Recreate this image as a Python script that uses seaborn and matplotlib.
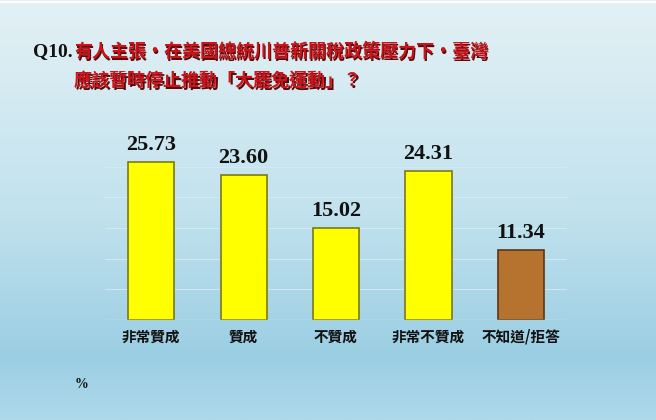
import matplotlib
matplotlib.use("Agg")
import matplotlib.pyplot as plt
from matplotlib.colors import LinearSegmentedColormap
import seaborn as sns
import pandas as pd
import numpy as np

# 資料
categories = ["非常贊成", "贊成", "不贊成", "非常不贊成", "不知道/拒答"]
values = [25.73, 23.60, 15.02, 24.31, 11.34]
bar_colors = ["#ffff00", "#ffff00", "#ffff00", "#ffff00", "#b5732f"]
edge_colors = ["#7a7a10", "#7a7a10", "#7a7a10", "#7a7a10", "#5c3614"]

df = pd.DataFrame({"cat": categories, "val": values})

sns.set_theme(style="white")
plt.rcParams['font.family'] = ['Noto Sans CJK TC', 'DejaVu Sans']

fig = plt.figure(figsize=(6.56, 4.2), dpi=100)

# 背景漸層
bg = fig.add_axes([0, 0, 1, 1])
cmap = LinearSegmentedColormap.from_list(
    "bg", [(0, "#e3f1f5"), (0.5, "#c2e2ee"), (0.85, "#9bcee3"), (1, "#aed9ea")])
grad = np.linspace(0, 1, 256).reshape(-1, 1)
bg.imshow(grad, aspect="auto", cmap=cmap, extent=[0, 1, 0, 1], origin="upper")
bg.axhline(0.995, color="white", lw=1.5)
bg.set_axis_off()

# 長條圖
W, H = 656, 420
ax = fig.add_axes([105 / W, (H - 320) / H, 462 / W, 184 / H])
ax.patch.set_alpha(0)
sns.barplot(data=df, x="cat", y="val", hue="cat", palette=bar_colors,
            width=0.5, legend=False, ax=ax, saturation=1)
for p, ec in zip(ax.patches, edge_colors):
    p.set_edgecolor(ec)
    p.set_linewidth(1.2)
ax.set_ylim(0, 30)
ax.set_xlim(-0.5, 4.5)
for yv in [5, 10, 15, 20, 25]:
    ax.axhline(yv, color="#d6ecf3", lw=0.6, zorder=0)
ax.axhline(0, color="#d0e8f0", lw=1.0)
for s in ax.spines.values():
    s.set_visible(False)
ax.set_yticks([])
ax.set_xlabel("")
ax.set_ylabel("")
ax.tick_params(axis="x", length=0, pad=6)
ax.set_xticks(range(len(categories)))
ax.set_xticklabels(categories, fontsize=10.5, fontweight="bold", color="#111111")

for i, v in enumerate(values):
    ax.text(i, v + 1.2, f"{v:.2f}", ha="center", va="bottom",
            fontsize=16, fontweight="bold", family="Liberation Serif", color="#111111")

# 標題
fig.text(33 / W, 1 - 56 / H, "Q10.", fontsize=14, fontweight="bold",
         family="Liberation Serif", color="#111111")
title_lines = ["有人主張·在美國總統川普新關稅政策壓力下·臺灣",
               "應該暫時停止推動「大罷免運動」？"]
for k, line in enumerate(title_lines):
    y = 1 - (57 + 30 * k) / H
    fig.text(74 / W + 0.002, y - 0.003, line, fontsize=13, fontweight="bold",
             color="#5a0a0a", family=['Noto Sans CJK TC', 'DejaVu Sans'])
    fig.text(74 / W, y, line, fontsize=13, fontweight="bold",
             color="#c8141a", family=['Noto Sans CJK TC', 'DejaVu Sans'])

fig.text(75 / W, 1 - 388 / H, "%", fontsize=10, fontweight="bold",
         family="Liberation Serif", color="#111111")

fig.savefig("out.png", dpi=100)
